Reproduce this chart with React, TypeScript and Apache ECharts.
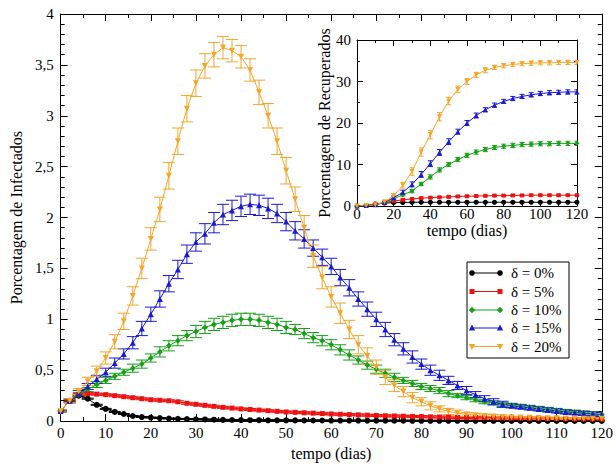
import React, { useEffect, useRef } from "react";
import * as echarts from "echarts";

// ---------- data ----------
const daysMain = [0, 2, 4, 6, 8, 10, 12, 14, 16, 18, 20, 22, 24, 26, 28, 30, 32, 34, 36, 38, 40, 42, 44, 46, 48, 50, 52, 54, 56, 58, 60, 62, 64, 66, 68, 70, 72, 74, 76, 78, 80, 82, 84, 86, 88, 90, 92, 94, 96, 98, 100, 102, 104, 106, 108, 110, 112, 114, 116, 118, 120];

const inf0 = [0.10, 0.20, 0.25, 0.22, 0.16, 0.12, 0.09, 0.07, 0.05, 0.04, 0.035, 0.03, 0.025, 0.022, 0.02, 0.018, 0.016, 0.014, 0.012, 0.011, 0.010, 0.009, 0.009, 0.008, 0.008, 0.007, 0.007, 0.006, 0.006, 0.006, 0.005, 0.005, 0.005, 0.005, 0.004, 0.004, 0.004, 0.004, 0.004, 0.003, 0.003, 0.003, 0.003, 0.003, 0.003, 0.003, 0.003, 0.002, 0.002, 0.002, 0.002, 0.002, 0.002, 0.002, 0.002, 0.002, 0.002, 0.002, 0.002, 0.002, 0.002];
const inf5 = [0.10, 0.20, 0.26, 0.27, 0.265, 0.26, 0.25, 0.24, 0.23, 0.22, 0.21, 0.205, 0.20, 0.19, 0.175, 0.165, 0.155, 0.145, 0.135, 0.128, 0.12, 0.114, 0.108, 0.102, 0.096, 0.09, 0.086, 0.082, 0.078, 0.074, 0.07, 0.067, 0.064, 0.061, 0.058, 0.055, 0.052, 0.050, 0.048, 0.046, 0.044, 0.042, 0.040, 0.038, 0.036, 0.035, 0.034, 0.033, 0.032, 0.031, 0.030, 0.029, 0.028, 0.027, 0.026, 0.025, 0.024, 0.023, 0.022, 0.021, 0.020];
const inf10 = [0.10, 0.20, 0.26, 0.31, 0.36, 0.40, 0.44, 0.48, 0.52, 0.56, 0.62, 0.68, 0.74, 0.79, 0.84, 0.88, 0.92, 0.95, 0.97, 0.99, 1.00, 1.00, 0.99, 0.97, 0.95, 0.92, 0.90, 0.86, 0.82, 0.79, 0.75, 0.70, 0.65, 0.60, 0.55, 0.51, 0.47, 0.43, 0.40, 0.37, 0.34, 0.32, 0.30, 0.27, 0.25, 0.23, 0.21, 0.19, 0.18, 0.165, 0.155, 0.145, 0.135, 0.125, 0.115, 0.105, 0.095, 0.088, 0.08, 0.073, 0.066];
const inf15 = [0.10, 0.20, 0.27, 0.34, 0.41, 0.48, 0.57, 0.66, 0.77, 0.91, 1.05, 1.20, 1.35, 1.49, 1.64, 1.76, 1.84, 1.95, 2.03, 2.07, 2.11, 2.13, 2.12, 2.09, 2.04, 1.96, 1.87, 1.79, 1.70, 1.61, 1.52, 1.41, 1.31, 1.20, 1.10, 1.00, 0.90, 0.80, 0.71, 0.63, 0.56, 0.50, 0.45, 0.40, 0.35, 0.30, 0.26, 0.22, 0.19, 0.165, 0.15, 0.14, 0.13, 0.12, 0.11, 0.10, 0.09, 0.083, 0.076, 0.07, 0.063];
const inf20 = [0.10, 0.20, 0.29, 0.39, 0.49, 0.62, 0.78, 0.98, 1.23, 1.50, 1.79, 2.08, 2.41, 2.75, 3.07, 3.32, 3.49, 3.60, 3.67, 3.64, 3.58, 3.45, 3.23, 3.00, 2.75, 2.46, 2.18, 1.90, 1.62, 1.41, 1.22, 1.06, 0.90, 0.75, 0.64, 0.53, 0.43, 0.35, 0.29, 0.23, 0.19, 0.15, 0.12, 0.095, 0.078, 0.066, 0.057, 0.05, 0.045, 0.041, 0.038, 0.035, 0.033, 0.031, 0.029, 0.027, 0.026, 0.025, 0.024, 0.023, 0.022];

const infErr0 = [0.005, 0.005, 0.005, 0.005, 0.005, 0.005, 0.005, 0.005, 0.005, 0.005, 0.005, 0.005, 0.005, 0.005, 0.005, 0.005, 0.005, 0.005, 0.005, 0.005, 0.005, 0.005, 0.005, 0.005, 0.005, 0.005, 0.005, 0.005, 0.005, 0.005, 0.005, 0.005, 0.005, 0.005, 0.005, 0.005, 0.005, 0.005, 0.005, 0.005, 0.005, 0.005, 0.005, 0.005, 0.005, 0.005, 0.005, 0.005, 0.005, 0.005, 0.005, 0.005, 0.005, 0.005, 0.005, 0.005, 0.005, 0.005, 0.005, 0.005, 0.005];
const infErr5 = [0.01, 0.01, 0.01, 0.01, 0.01, 0.01, 0.01, 0.01, 0.01, 0.01, 0.01, 0.01, 0.01, 0.01, 0.01, 0.01, 0.01, 0.01, 0.01, 0.01, 0.01, 0.01, 0.01, 0.01, 0.01, 0.01, 0.01, 0.01, 0.01, 0.01, 0.01, 0.01, 0.01, 0.01, 0.01, 0.01, 0.01, 0.01, 0.01, 0.01, 0.01, 0.01, 0.01, 0.01, 0.01, 0.01, 0.01, 0.01, 0.01, 0.01, 0.01, 0.01, 0.01, 0.01, 0.01, 0.01, 0.01, 0.01, 0.01, 0.01, 0.01];
const infErr10 = [0.01, 0.02, 0.02, 0.02, 0.03, 0.03, 0.03, 0.03, 0.04, 0.04, 0.04, 0.05, 0.05, 0.05, 0.05, 0.06, 0.06, 0.06, 0.06, 0.06, 0.06, 0.06, 0.06, 0.06, 0.06, 0.06, 0.05, 0.05, 0.05, 0.05, 0.05, 0.05, 0.05, 0.04, 0.04, 0.04, 0.04, 0.04, 0.03, 0.03, 0.03, 0.03, 0.03, 0.03, 0.02, 0.02, 0.02, 0.02, 0.02, 0.02, 0.02, 0.02, 0.02, 0.02, 0.02, 0.02, 0.02, 0.02, 0.02, 0.02, 0.02];
const infErr15 = [0.01, 0.02, 0.03, 0.03, 0.04, 0.04, 0.05, 0.05, 0.06, 0.07, 0.07, 0.08, 0.08, 0.09, 0.09, 0.09, 0.10, 0.10, 0.10, 0.10, 0.10, 0.10, 0.10, 0.10, 0.09, 0.09, 0.09, 0.09, 0.08, 0.08, 0.08, 0.08, 0.08, 0.07, 0.07, 0.07, 0.07, 0.06, 0.06, 0.06, 0.05, 0.05, 0.05, 0.04, 0.04, 0.04, 0.03, 0.03, 0.03, 0.03, 0.02, 0.02, 0.02, 0.02, 0.02, 0.02, 0.02, 0.02, 0.02, 0.02, 0.02];
const infErr20 = [0.01, 0.02, 0.03, 0.04, 0.05, 0.06, 0.07, 0.08, 0.09, 0.10, 0.11, 0.12, 0.13, 0.13, 0.13, 0.13, 0.12, 0.12, 0.11, 0.11, 0.11, 0.11, 0.12, 0.12, 0.13, 0.13, 0.12, 0.12, 0.11, 0.11, 0.10, 0.10, 0.09, 0.09, 0.08, 0.07, 0.07, 0.06, 0.05, 0.05, 0.04, 0.04, 0.03, 0.03, 0.03, 0.02, 0.02, 0.02, 0.02, 0.02, 0.01, 0.01, 0.01, 0.01, 0.01, 0.01, 0.01, 0.01, 0.01, 0.01, 0.01];

const daysInset = [0, 5, 10, 15, 20, 25, 30, 35, 40, 45, 50, 55, 60, 65, 70, 75, 80, 85, 90, 95, 100, 105, 110, 115, 120];
const rec0 = [0, 0.1, 0.5, 0.7, 0.8, 0.85, 0.9, 0.9, 0.9, 0.9, 0.9, 0.9, 0.9, 0.9, 0.9, 0.9, 0.9, 0.9, 0.9, 0.9, 0.9, 0.9, 0.9, 0.9, 0.9];
const rec5 = [0, 0.1, 0.4, 0.8, 1.2, 1.5, 1.7, 1.9, 2.0, 2.1, 2.2, 2.3, 2.35, 2.4, 2.45, 2.5, 2.5, 2.55, 2.55, 2.6, 2.6, 2.6, 2.6, 2.6, 2.6];
const rec10 = [0, 0.1, 0.3, 0.8, 1.7, 2.7, 3.6, 5.3, 7.0, 8.7, 10.0, 11.2, 12.2, 13.0, 13.6, 14.1, 14.4, 14.6, 14.8, 14.9, 15.0, 15.0, 15.1, 15.1, 15.1];
const rec15 = [0, 0.1, 0.3, 0.9, 2.0, 3.3, 5.2, 7.6, 10.2, 12.9, 15.5, 17.9, 20.0, 21.8, 23.2, 24.3, 25.2, 25.9, 26.4, 26.8, 27.1, 27.3, 27.4, 27.5, 27.5];
const rec20 = [0, 0.1, 0.3, 1.0, 2.5, 5.0, 8.3, 13.0, 17.2, 21.5, 25.3, 28.1, 30.0, 31.6, 32.7, 33.4, 33.8, 34.1, 34.3, 34.4, 34.5, 34.5, 34.6, 34.6, 34.6];

const recErr0 = [0, 0.05, 0.1, 0.1, 0.1, 0.1, 0.1, 0.1, 0.1, 0.1, 0.1, 0.1, 0.1, 0.1, 0.1, 0.1, 0.1, 0.1, 0.1, 0.1, 0.1, 0.1, 0.1, 0.1, 0.1];
const recErr5 = [0, 0.05, 0.1, 0.15, 0.2, 0.2, 0.2, 0.2, 0.2, 0.2, 0.2, 0.2, 0.2, 0.2, 0.2, 0.2, 0.2, 0.2, 0.2, 0.2, 0.2, 0.2, 0.2, 0.2, 0.2];
const recErr10 = [0, 0.1, 0.1, 0.2, 0.3, 0.3, 0.4, 0.4, 0.5, 0.5, 0.5, 0.5, 0.5, 0.5, 0.5, 0.5, 0.5, 0.5, 0.5, 0.5, 0.5, 0.5, 0.5, 0.5, 0.5];
const recErr15 = [0, 0.1, 0.2, 0.3, 0.4, 0.5, 0.6, 0.7, 0.7, 0.7, 0.7, 0.6, 0.6, 0.6, 0.5, 0.5, 0.5, 0.5, 0.5, 0.5, 0.5, 0.5, 0.5, 0.5, 0.5];
const recErr20 = [0, 0.1, 0.2, 0.3, 0.5, 0.7, 0.9, 1.0, 1.0, 1.0, 0.9, 0.8, 0.7, 0.6, 0.6, 0.5, 0.5, 0.5, 0.5, 0.5, 0.5, 0.5, 0.5, 0.5, 0.5];

const legendNames = ["δ = 0%", "δ = 5%", "δ = 10%", "δ = 15%", "δ = 20%"];
const yMainTicks = { min: 0, max: 4, interval: 0.5 };
const xMainTicks = { min: 0, max: 120, interval: 10 };
const yInsetTicks = { min: 0, max: 40, interval: 10 };
const xInsetTicks = { min: 0, max: 120, interval: 20 };

// ---------- styles ----------
const FONT = "'Liberation Serif', 'Times New Roman', serif";
const colors = ["#000000", "#ee1111", "#15a015", "#1a1ad2", "#f4a62a"];
const symbols = ["circle", "rect", "diamond", "triangle", "triangle"];
const rotations = [0, 0, 0, 0, 180];

const mainVals = [inf0, inf5, inf10, inf15, inf20];
const mainErrs = [infErr0, infErr5, infErr10, infErr15, infErr20];
const insetVals = [rec0, rec5, rec10, rec15, rec20];
const insetErrs = [recErr0, recErr5, recErr10, recErr15, recErr20];

function errSeries(name: string, color: string, xs: number[], ys: number[], es: number[], axisIdx: number, cap: number) {
  return {
    type: "custom",
    name,
    xAxisIndex: axisIdx,
    yAxisIndex: axisIdx,
    clip: true,
    silent: true,
    encode: { x: 0, y: 1 },
    data: xs.map((d, i) => [d, ys[i], es[i]]),
    renderItem: (params: any, api: any) => {
      const x = api.value(0);
      const y = api.value(1);
      const e = api.value(2);
      const top = api.coord([x, y + e]);
      const bot = api.coord([x, y - e]);
      const st = { stroke: color, lineWidth: 1 };
      return {
        type: "group",
        children: [
          { type: "line", shape: { x1: top[0], y1: top[1], x2: bot[0], y2: bot[1] }, style: st },
          { type: "line", shape: { x1: top[0] - cap, y1: top[1], x2: top[0] + cap, y2: top[1] }, style: st },
          { type: "line", shape: { x1: bot[0] - cap, y1: bot[1], x2: bot[0] + cap, y2: bot[1] }, style: st },
        ],
      };
    },
  };
}

function lineSeries(name: string, i: number, xs: number[], ys: number[], axisIdx: number, size: number) {
  return {
    type: "line",
    name,
    xAxisIndex: axisIdx,
    yAxisIndex: axisIdx,
    data: xs.map((d, k) => [d, ys[k]]),
    symbol: symbols[i],
    symbolRotate: rotations[i],
    symbolSize: symbols[i] === "rect" ? size - 1 : size,
    showSymbol: true,
    itemStyle: { color: colors[i] },
    lineStyle: { color: colors[i], width: 1 },
    z: 3,
  };
}

const labelStyle = { color: "#000", fontFamily: FONT };

function xAxisCfg(grid: number, ticks: any, pos: "bottom" | "top", showLabel: boolean, major: number, minor: number, fontSize: number, margin: number, name?: string, nameGap?: number) {
  return {
    type: "value",
    gridIndex: grid,
    position: pos,
    min: ticks.min,
    max: ticks.max,
    interval: ticks.interval,
    axisLine: { show: true, onZero: false, lineStyle: { color: "#000", width: 1 } },
    axisTick: { show: true, inside: true, length: major, lineStyle: { color: "#000" } },
    minorTick: { show: true, splitNumber: 2, length: minor, lineStyle: { color: "#000" } },
    splitLine: { show: false },
    axisLabel: { show: showLabel, fontSize, margin, ...labelStyle, showMinLabel: true, showMaxLabel: true },
    name: name || "",
    nameLocation: "middle",
    nameGap: nameGap || 0,
    nameTextStyle: { fontSize: 16, ...labelStyle },
  };
}

function yAxisCfg(grid: number, ticks: any, pos: "left" | "right", showLabel: boolean, major: number, minor: number, minorSplit: number, fontSize: number, margin: number, name?: string, nameGap?: number) {
  return {
    type: "value",
    gridIndex: grid,
    position: pos,
    min: ticks.min,
    max: ticks.max,
    interval: ticks.interval,
    axisLine: { show: true, onZero: false, lineStyle: { color: "#000", width: 1 } },
    axisTick: { show: true, inside: true, length: major, lineStyle: { color: "#000" } },
    minorTick: { show: true, splitNumber: minorSplit, length: minor, lineStyle: { color: "#000" } },
    splitLine: { show: false },
    axisLabel: {
      show: showLabel,
      fontSize,
      margin,
      ...labelStyle,
      formatter: (v: number) => String(v).replace(".", ","),
    },
    name: name || "",
    nameLocation: "middle",
    nameGap: nameGap || 0,
    nameRotate: 90,
    nameTextStyle: { fontSize: 16, ...labelStyle },
  };
}

function legendGraphic() {
  const x0 = 467, y0 = 262, w = 102, h = 96;
  const children: any[] = [
    { type: "rect", shape: { x: x0, y: y0, width: w, height: h }, style: { fill: "#fff", stroke: "#000", lineWidth: 1 } },
  ];
  const rowY = [273, 291.5, 310, 328, 346.5];
  const lx1 = 472, lx2 = 500;
  legendNames.forEach((nm, i) => {
    const y = rowY[i];
    const c = colors[i];
    children.push({ type: "line", shape: { x1: lx1, y1: y, x2: lx2, y2: y }, style: { stroke: c, lineWidth: 1 } });
    [lx1, lx2].forEach((cx) => {
      let m: any;
      if (i === 0) m = { type: "circle", shape: { cx, cy: y, r: 2.8 }, style: { fill: c } };
      else if (i === 1) m = { type: "rect", shape: { x: cx - 2.5, y: y - 2.5, width: 5, height: 5 }, style: { fill: c } };
      else if (i === 2) m = { type: "polygon", shape: { points: [[cx, y - 3.2], [cx + 3.2, y], [cx, y + 3.2], [cx - 3.2, y]] }, style: { fill: c } };
      else if (i === 3) m = { type: "polygon", shape: { points: [[cx, y - 3.5], [cx + 3.2, y + 2.5], [cx - 3.2, y + 2.5]] }, style: { fill: c } };
      else m = { type: "polygon", shape: { points: [[cx, y + 3.5], [cx + 3.2, y - 2.5], [cx - 3.2, y - 2.5]] }, style: { fill: c } };
      children.push(m);
    });
    children.push({
      type: "text",
      x: 511,
      y,
      style: { text: nm, fontSize: 15, fontFamily: FONT, fill: "#000", verticalAlign: "middle" },
    });
  });
  return { type: "group", children, z: 10 };
}

function buildOption() {
  const series: any[] = [];
  for (let i = 0; i < 5; i++) {
    series.push(errSeries(legendNames[i] + " err", colors[i], daysMain, mainVals[i], mainErrs[i], 0, 6));
    series.push(lineSeries(legendNames[i], i, daysMain, mainVals[i], 0, 6));
  }
  for (let i = 0; i < 5; i++) {
    series.push(errSeries(legendNames[i] + " rec err", colors[i], daysInset, insetVals[i], insetErrs[i], 2, 2.5));
    series.push(lineSeries(legendNames[i] + " rec", i, daysInset, insetVals[i], 2, 5));
  }
  return {
    animation: false,
    backgroundColor: "#fff",
    textStyle: { fontFamily: FONT },
    grid: [
      { left: 52, top: 14, width: 556, height: 414, containLabel: false },
      { left: 357, top: 40, width: 220, height: 166, containLabel: false, show: true, backgroundColor: "#fff", borderWidth: 0 },
    ],
    xAxis: [
      xAxisCfg(0, xMainTicks, "bottom", true, 7, 4, 15, 4, "tempo (dias)", 22),
      xAxisCfg(0, xMainTicks, "top", false, 7, 4, 15, 4),
      xAxisCfg(1, xInsetTicks, "bottom", true, 6, 3, 15, 0, "tempo (dias)", 16),
      xAxisCfg(1, xInsetTicks, "top", false, 6, 3, 15, 0),
    ],
    yAxis: [
      yAxisCfg(0, yMainTicks, "left", true, 7, 4, 5, 15, 7, "Porcentagem de Infectados", 31),
      yAxisCfg(0, yMainTicks, "right", false, 7, 4, 5, 15, 7),
      yAxisCfg(1, yInsetTicks, "left", true, 6, 3, 2, 15, 6, "Porcentagem de Recuperados", 24),
      yAxisCfg(1, yInsetTicks, "right", false, 6, 3, 2, 15, 6),
    ],
    series,
    graphic: [legendGraphic()],
  };
}

export default function App() {
  const ref = useRef<HTMLDivElement>(null);
  useEffect(() => {
    if (!ref.current) return;
    const chart = echarts.init(ref.current, null, { renderer: "svg" });
    chart.setOption(buildOption() as any);
    return () => chart.dispose();
  }, []);
  return (
    <div
      ref={ref}
      style={{ position: "fixed", left: 0, top: 0, width: 616, height: 466, background: "#fff" }}
    />
  );
}
